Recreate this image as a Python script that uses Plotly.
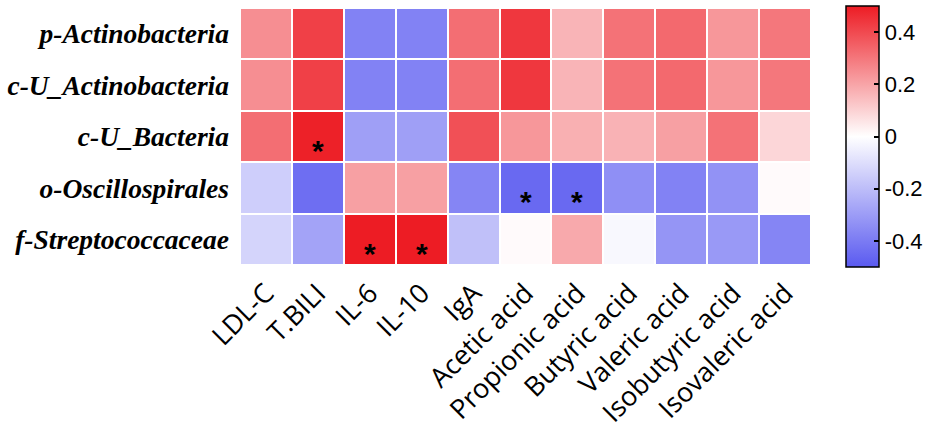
import plotly.graph_objects as go

# ---- data ----
taxa = ["p-Actinobacteria", "c-U_Actinobacteria", "c-U_Bacteria",
        "o-Oscillospirales", "f-Streptococcaceae"]
variables = ["LDL-C", "T.BILI", "IL-6", "IL-10", "IgA", "Acetic acid",
             "Propionic acid", "Butyric acid", "Valeric acid",
             "Isobutyric acid", "Isovaleric acid"]

r_p_actino   = [0.25, 0.42, -0.38, -0.38, 0.32, 0.44, 0.165, 0.31, 0.33, 0.23, 0.30]
r_cu_actino  = [0.25, 0.42, -0.38, -0.38, 0.32, 0.44, 0.165, 0.31, 0.33, 0.23, 0.30]
r_cu_bact    = [0.32, 0.49, -0.29, -0.29, 0.385, 0.23, 0.175, 0.17, 0.21, 0.31, 0.09]
r_oscillo    = [-0.15, -0.44, 0.21, 0.21, -0.37, -0.455, -0.455, -0.34, -0.38, -0.33, 0.01]
r_strepto    = [-0.13, -0.28, 0.50, 0.50, -0.19, 0.01, 0.19, -0.02, -0.32, -0.31, -0.37]

sig_p_actino  = [0, 0, 0, 0, 0, 0, 0, 0, 0, 0, 0]
sig_cu_actino = [0, 0, 0, 0, 0, 0, 0, 0, 0, 0, 0]
sig_cu_bact   = [0, 1, 0, 0, 0, 0, 0, 0, 0, 0, 0]
sig_oscillo   = [0, 0, 0, 0, 0, 1, 1, 0, 0, 0, 0]
sig_strepto   = [0, 0, 1, 1, 0, 0, 0, 0, 0, 0, 0]

cbar_ticks = [-0.4, -0.2, 0, 0.2, 0.4]
cbar_ticklabels = ["-0.4", "-0.2", "0", "0.2", "0.4"]

z = [r_p_actino, r_cu_actino, r_cu_bact, r_oscillo, r_strepto]
sig = [sig_p_actino, sig_cu_actino, sig_cu_bact, sig_oscillo, sig_strepto]

colorscale = [[0.0, "#5a5af0"], [0.5, "#ffffff"], [1.0, "#ed1c24"]]

fig = go.Figure()
fig.add_trace(go.Heatmap(
    z=z, x=variables, y=taxa,
    zmin=-0.5, zmax=0.5, colorscale=colorscale,
    xgap=2, ygap=2,
    colorbar=dict(
        x=1.061, xanchor="left", xref="paper",
        y=0.5, yanchor="middle",
        thickness=33, thicknessmode="pixels",
        len=261, lenmode="pixels",
        xpad=0, ypad=0,
        outlinewidth=1.5, outlinecolor="black",
        tickvals=cbar_ticks, ticktext=cbar_ticklabels,
        ticks="inside", ticklen=5, tickwidth=1.5, tickcolor="black",
        tickfont=dict(family="Liberation Sans, Arial", size=22, color="black"),
    ),
))

annotations = []
for i, row in enumerate(sig):
    for j, s in enumerate(row):
        if s:
            annotations.append(dict(
                x=variables[j], y=taxa[i], text="<b>*</b>", showarrow=False,
                font=dict(family="Liberation Sans, Arial", size=30, color="black"),
                yshift=-14,
            ))

fig.update_layout(
    width=935, height=437,
    margin=dict(l=240, r=122, t=6, b=172),
    plot_bgcolor="white", paper_bgcolor="white",
    annotations=annotations,
    xaxis=dict(tickangle=-45, showgrid=False, zeroline=False, ticks="",
               ticklabelstandoff=6,
               tickfont=dict(family="Open Sans", size=27, color="black")),
    yaxis=dict(autorange="reversed", showgrid=False, zeroline=False, ticks="",
               ticklabelstandoff=10,
               tickfont=dict(family="Liberation Serif", size=27.5, color="black",
                             weight="bold", style="italic")),
)

fig.write_html("out.html", config={"displayModeBar": False},
               post_script="document.body.style.margin='0px';")
